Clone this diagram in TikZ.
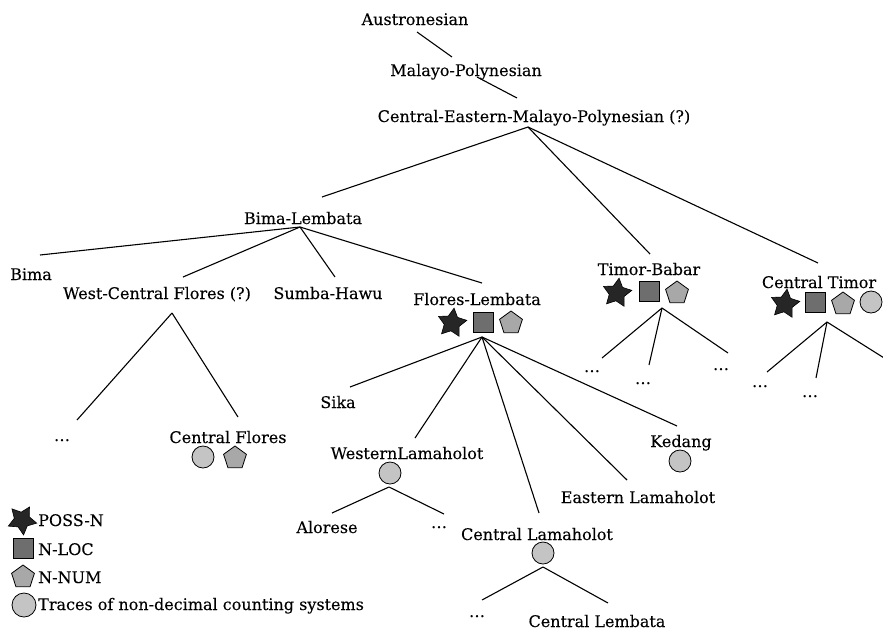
\documentclass[tikz,border=0pt]{standalone}
\usepackage{fontspec}
\setmainfont[FakeBold=0.12]{DejaVu Serif}
\usetikzlibrary{shapes.geometric}
\definecolor{stargray}{HTML}{262626}
\definecolor{sqgray}{HTML}{6E6E6E}
\definecolor{pentgray}{HTML}{A8A8A8}
\definecolor{circgray}{HTML}{C4C4C4}
\tikzset{
  lbl/.style={anchor=base, inner sep=0pt, font=\fontsize{16}{19}\selectfont},
  leg/.style={anchor=base west, inner sep=0pt, font=\fontsize{16}{19}\selectfont},
  edge/.style={line width=1.1pt, draw=black},
  sstar/.style={star, star points=5, star point ratio=1.9, minimum size=30pt, inner sep=0pt, draw=black, line width=0.6pt, fill=stargray, rotate=-8},
  ssq/.style={rectangle, minimum size=20pt, inner sep=0pt, draw=black, line width=0.8pt, fill=sqgray},
  spent/.style={regular polygon, regular polygon sides=5, minimum size=24pt, inner sep=0pt, draw=black, line width=0.8pt, fill=pentgray},
  scirc/.style={circle, minimum size=22pt, inner sep=0pt, draw=black, line width=0.8pt, fill=circgray},
}
\begin{document}
\begin{tikzpicture}[x=1pt,y=-1pt]
\useasboundingbox (0,0) rectangle (883,630);
% labels
\node[lbl] (aus) at (415,25) {Austronesian};
\node[lbl] (mp) at (466,76) {Malayo-Polynesian};
\node[lbl] (cemp) at (534,122) {Central-Eastern-Malayo-Polynesian (?)};
\node[lbl] (bl) at (303,224) {Bima-Lembata};
\node[lbl] (bima) at (31,280) {Bima};
\node[lbl] (wcf) at (157,299) {West-Central Flores (?)};
\node[lbl] (sh) at (328,299) {Sumba-Hawu};
\node[lbl] (fl) at (477,305) {Flores-Lembata};
\node[lbl] (tb) at (649,275) {Timor-Babar};
\node[lbl] (ct) at (819,288) {Central Timor};
\node[lbl] (cf) at (228,443) {Central Flores};
\node[lbl] (sika) at (338,408) {Sika};
\node[lbl] (wl) at (407,459) {WesternLamaholot};
\node[lbl] (alo) at (327,533) {Alorese};
\node[lbl] (cl) at (537,540) {Central Lamaholot};
\node[lbl] (clb) at (597,627) {Central Lembata};
\node[lbl] (el) at (638,503) {Eastern Lamaholot};
\node[lbl] (ked) at (681,447) {Kedang};
% dots
\node[lbl] (d1) at (62,441) {…};
\node[lbl] (d2) at (439,528) {…};
\node[lbl] (d3) at (477,617) {…};
\node[lbl] (d4) at (592,372) {…};
\node[lbl] (d5) at (643,384) {…};
\node[lbl] (d6) at (721,370) {…};
\node[lbl] (d7) at (760,387) {…};
\node[lbl] (d8) at (810,397) {…};
\node[lbl] (d9) at (891,382) {…};
% symbols
\node[sstar] (s1) at (452,323) {};
\node[ssq] (q1) at (483,322) {};
\node[spent] (p1) at (511,323) {};
\node[sstar] (s2) at (617,293) {};
\node[ssq] (q2) at (649,291) {};
\node[spent] (p2) at (677,293) {};
\node[sstar] (s3) at (785,304) {};
\node[ssq] (q3) at (815,302) {};
\node[spent] (p3) at (843,304) {};
\node[scirc] (c3) at (871,302) {};
\node[scirc] (c1) at (203,457) {};
\node[spent] (p4) at (235,458) {};
\node[scirc] (c2) at (390,473) {};
\node[scirc] (c4) at (543,553) {};
\node[scirc] (c5) at (680,461) {};
% legend
\node[sstar, rotate=-22] (ls) at (22,520) {};
\node[leg] (lt1) at (38,526) {POSS-N};
\node[ssq] (lq) at (23,548) {};
\node[leg] (lt2) at (38,555) {N-LOC};
\node[spent] (lp) at (23,577) {};
\node[leg] (lt3) at (38,583) {N-NUM};
\node[scirc, minimum size=24pt] (lc) at (24,605) {};
\node[leg] (lt4) at (38,610) {Traces of non-decimal counting systems};
% coordinates
\coordinate (aus-a) at (417,32);
\coordinate (mp-t) at (452,57);
\coordinate (mp-a) at (477,77);
\coordinate (cemp-t) at (517,98);
\coordinate (cemp-a) at (528,127);
\coordinate (bl-t) at (322,197);
\coordinate (tb-t) at (650,254);
\coordinate (ct-t) at (818,263);
\coordinate (bl-a) at (300,227);
\coordinate (bima-t) at (40,255);
\coordinate (wcf-t) at (183,277);
\coordinate (sh-t) at (335,277);
\coordinate (fl-t) at (482,283);
\coordinate (wcf-a) at (172,313);
\coordinate (d1-t) at (77,420);
\coordinate (cf-t) at (238,417);
\coordinate (fl-a) at (482,337);
\coordinate (sika-t) at (350,387);
\coordinate (wl-t) at (415,438);
\coordinate (cl-t) at (539,513);
\coordinate (el-t) at (627,480);
\coordinate (ked-t) at (677,426);
\coordinate (wl-a) at (389,487);
\coordinate (alo-t) at (332,513);
\coordinate (d2-t) at (444,514);
\coordinate (cl-a) at (543,567);
\coordinate (d3-t) at (482,600);
\coordinate (clb-t) at (608,603);
\coordinate (tb-a) at (662,308);
\coordinate (d4-t) at (602,358);
\coordinate (d5-t) at (649,365);
\coordinate (d6-t) at (728,353);
\coordinate (ct-a) at (827,322);
\coordinate (d7-t) at (767,372);
\coordinate (d8-t) at (816,378);
\coordinate (d9-t) at (900,368);
% edges
\draw[edge] (aus-a) -- (mp-t);
\draw[edge] (mp-a) -- (cemp-t);
\draw[edge] (cemp-a) -- (bl-t);
\draw[edge] (cemp-a) -- (tb-t);
\draw[edge] (cemp-a) -- (ct-t);
\draw[edge] (bl-a) -- (bima-t);
\draw[edge] (bl-a) -- (wcf-t);
\draw[edge] (bl-a) -- (sh-t);
\draw[edge] (bl-a) -- (fl-t);
\draw[edge] (wcf-a) -- (d1-t);
\draw[edge] (wcf-a) -- (cf-t);
\draw[edge] (fl-a) -- (sika-t);
\draw[edge] (fl-a) -- (wl-t);
\draw[edge] (fl-a) -- (cl-t);
\draw[edge] (fl-a) -- (el-t);
\draw[edge] (fl-a) -- (ked-t);
\draw[edge] (wl-a) -- (alo-t);
\draw[edge] (wl-a) -- (d2-t);
\draw[edge] (cl-a) -- (d3-t);
\draw[edge] (cl-a) -- (clb-t);
\draw[edge] (tb-a) -- (d4-t);
\draw[edge] (tb-a) -- (d5-t);
\draw[edge] (tb-a) -- (d6-t);
\draw[edge] (ct-a) -- (d7-t);
\draw[edge] (ct-a) -- (d8-t);
\draw[edge] (ct-a) -- (d9-t);
\end{tikzpicture}
\end{document}
